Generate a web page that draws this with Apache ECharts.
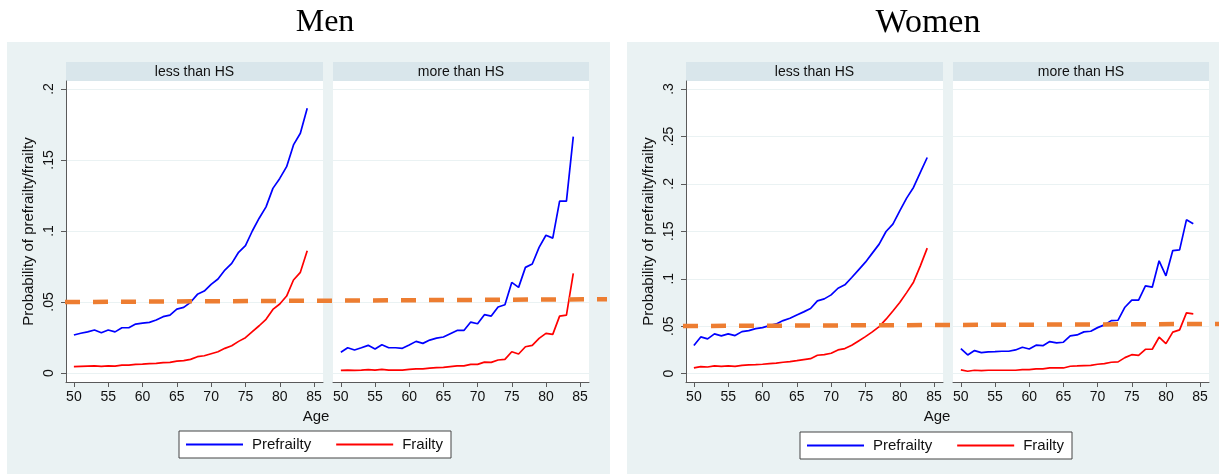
<!DOCTYPE html>
<html><head><meta charset="utf-8">
<script src="https://cdn.jsdelivr.net/npm/echarts@6/dist/echarts.min.js"></script>
<style>html,body{margin:0;padding:0;background:#fff}#c{width:1221px;height:474px}</style>
</head><body><div id="c"></div>
<script>
const ages = [50,51,52,53,54,55,56,57,58,59,60,61,62,63,64,65,66,67,68,69,70,71,72,73,74,75,76,77,78,79,80,81,82,83,84];
const xTicks = [50,55,60,65,70,75,80,85];
const menYTicks = [0,0.05,0.1,0.15,0.2];
const womenYTicks = [0,0.05,0.1,0.15,0.2,0.25,0.3];
const panelTitles = ['Men','Women'];
const stripLabels = ['less than HS','more than HS'];
const seriesNames = ['Prefrailty','Frailty'];
const threshold = [0.05, 0.052];
const thresholdW = [0.0502, 0.0524];

const menLessPre = [0.0268,0.0280,0.0290,0.0303,0.0284,0.0303,0.0290,0.0319,0.0319,0.0345,0.0352,0.0357,0.0373,0.0397,0.0408,0.0450,0.0462,0.0498,0.0554,0.0577,0.0624,0.0662,0.0725,0.0772,0.0850,0.0897,0.1000,0.1090,0.1170,0.1300,0.1370,0.1453,0.1606,0.1688,0.1864];
const menLessFr = [0.0045,0.0047,0.0049,0.0051,0.0047,0.0050,0.0049,0.0056,0.0056,0.0061,0.0063,0.0066,0.0068,0.0073,0.0075,0.0084,0.0087,0.0096,0.0115,0.0122,0.0136,0.0150,0.0174,0.0192,0.0223,0.0249,0.0291,0.0333,0.0378,0.0448,0.0486,0.0542,0.0655,0.0709,0.0861];
const menMorePre = [0.0146,0.0178,0.0162,0.0178,0.0195,0.0169,0.0199,0.0178,0.0178,0.0174,0.0197,0.0223,0.0209,0.0232,0.0246,0.0254,0.0277,0.0300,0.0300,0.0359,0.0347,0.0411,0.0401,0.0465,0.0481,0.0638,0.0603,0.0744,0.0768,0.0885,0.0970,0.0950,0.1210,0.1210,0.1664];
const menMoreFr = [0.0019,0.0021,0.0019,0.0021,0.0024,0.0021,0.0026,0.0021,0.0021,0.0021,0.0026,0.0030,0.0030,0.0035,0.0038,0.0040,0.0045,0.0050,0.0050,0.0061,0.0061,0.0077,0.0075,0.0092,0.0096,0.0150,0.0134,0.0185,0.0195,0.0244,0.0279,0.0272,0.0401,0.0408,0.0702];
const womenLessPre = [0.0296,0.0387,0.0366,0.0419,0.0398,0.0419,0.0401,0.0443,0.0454,0.0475,0.0485,0.0506,0.0524,0.0559,0.0584,0.0619,0.0651,0.0686,0.0767,0.0788,0.0830,0.0900,0.0936,0.1013,0.1094,0.1175,0.1270,0.1365,0.1498,0.1576,0.1716,0.1850,0.1962,0.2120,0.2278];
const womenLessFr = [0.0060,0.0074,0.0070,0.0081,0.0077,0.0081,0.0077,0.0088,0.0092,0.0095,0.0099,0.0106,0.0110,0.0120,0.0127,0.0137,0.0148,0.0158,0.0194,0.0201,0.0215,0.0250,0.0264,0.0299,0.0345,0.0390,0.0440,0.0496,0.0574,0.0661,0.0749,0.0854,0.0964,0.1136,0.1323];
const womenMorePre = [0.0264,0.0197,0.0243,0.0222,0.0229,0.0232,0.0236,0.0236,0.0250,0.0278,0.0260,0.0300,0.0295,0.0338,0.0324,0.0331,0.0398,0.0408,0.0440,0.0447,0.0485,0.0514,0.0559,0.0563,0.0700,0.0774,0.0774,0.0925,0.0911,0.1189,0.1031,0.1297,0.1305,0.1621,0.1579];
const womenMoreFr = [0.0039,0.0025,0.0036,0.0032,0.0036,0.0036,0.0036,0.0036,0.0036,0.0042,0.0042,0.0050,0.0050,0.0060,0.0060,0.0060,0.0078,0.0081,0.0085,0.0088,0.0099,0.0106,0.0120,0.0124,0.0169,0.0200,0.0193,0.0257,0.0257,0.0384,0.0316,0.0437,0.0461,0.0640,0.0630];

const FONT = 'Liberation Sans, Arial, sans-serif';
const PANEL = '#eaf2f3', STRIP = '#d9e6eb', GRIDC = '#eaf2f3', AXC = '#5a5a5a', TXT = '#111';
const fmt = v => String(+v.toFixed(3)).replace(/^0\./, '.');

const plots = [
  {left: 66, width: 257, ymin: -0.0063, ymax: 0.2056, yt: menYTicks, first: true, pre: menLessPre, fr: menLessFr, strip: 0},
  {left: 333, width: 256, ymin: -0.0063, ymax: 0.2056, yt: menYTicks, first: false, pre: menMorePre, fr: menMoreFr, strip: 1},
  {left: 686, width: 257, ymin: -0.0088, ymax: 0.3084, yt: womenYTicks, first: true, pre: womenLessPre, fr: womenLessFr, strip: 0},
  {left: 953, width: 256, ymin: -0.0088, ymax: 0.3084, yt: womenYTicks, first: false, pre: womenMorePre, fr: womenMoreFr, strip: 1}
];
const TOP = 81, BOTTOM = 474 - 382;

const grid = [], xAxis = [], yAxis = [], series = [], graphic = [];
graphic.push({type:'rect', z:-100, shape:{x:7,y:42,width:603,height:432}, style:{fill:PANEL}});
graphic.push({type:'rect', z:-100, shape:{x:627,y:42,width:592,height:432}, style:{fill:PANEL}});
graphic.push({type:'text', x:325, y:23, style:{text:panelTitles[0], font:'32px "Liberation Serif", "Times New Roman", serif', fill:'#000', align:'center', verticalAlign:'middle'}});
graphic.push({type:'text', x:928, y:23, style:{text:panelTitles[1], font:'34px "Liberation Serif", "Times New Roman", serif', fill:'#000', align:'center', verticalAlign:'middle'}});
graphic.push({type:'text', x:316, y:417, style:{text:'Age', font:'15px ' + FONT, fill:TXT, align:'center', verticalAlign:'middle'}});
graphic.push({type:'text', x:937, y:417, style:{text:'Age', font:'15px ' + FONT, fill:TXT, align:'center', verticalAlign:'middle'}});

plots.forEach((p, i) => {
  grid.push({left: p.left, width: p.width, top: TOP, bottom: BOTTOM, show: true, backgroundColor: '#fff', borderWidth: 0});
  graphic.push({type:'rect', z:-50, shape:{x:p.left, y:62, width:p.width, height:19}, style:{fill:STRIP}});
  graphic.push({type:'text', x:p.left + p.width/2, y:72, style:{text:stripLabels[p.strip], font:'14px ' + FONT, fill:TXT, align:'center', verticalAlign:'middle'}});
  xAxis.push({
    type: 'value', gridIndex: i, min: 48.85, max: 86.3,
    axisLine: {show: true, onZero: false, lineStyle: {color: AXC, width: 1}},
    axisTick: {show: true, length: 5, customValues: xTicks, lineStyle: {color: AXC}},
    axisLabel: {show: true, customValues: xTicks, margin: 8, fontSize: 14, fontFamily: FONT, color: TXT},
    splitLine: {show: false}
  });
  yAxis.push({
    type: 'value', gridIndex: i, min: p.ymin, max: p.ymax,
    name: p.first ? 'Probability of prefrailty/frailty' : '',
    nameLocation: 'middle', nameGap: 30,
    nameTextStyle: {fontSize: 15, fontFamily: FONT, color: TXT},
    axisLine: {show: p.first, lineStyle: {color: AXC, width: 1}},
    axisTick: {show: p.first, length: 5, customValues: p.yt, lineStyle: {color: AXC}},
    axisLabel: {show: p.first, customValues: p.yt, rotate: 90, margin: 10, fontSize: 14, fontFamily: FONT, color: TXT, formatter: fmt},
    splitLine: {show: true, lineStyle: {color: GRIDC, width: 1.2}}
  });
  series.push({name: seriesNames[0], type: 'line', xAxisIndex: i, yAxisIndex: i, showSymbol: false, symbol: 'none',
    lineStyle: {color: '#0000ff', width: 1.7}, itemStyle: {color: '#0000ff'},
    data: ages.map((a, k) => [a, p.pre[k]])});
  series.push({name: seriesNames[1], type: 'line', xAxisIndex: i, yAxisIndex: i, showSymbol: false, symbol: 'none',
    lineStyle: {color: '#ff0000', width: 1.7}, itemStyle: {color: '#ff0000'},
    data: ages.map((a, k) => [a, p.fr[k]])});
});

const overlays = [
  {left: 65, width: 542, ymin: -0.0063, ymax: 0.2056, vals: threshold},
  {left: 683, width: 536, ymin: -0.0088, ymax: 0.3084, vals: thresholdW}
];
overlays.forEach(o => {
  const gi = grid.length;
  grid.push({left: o.left, width: o.width, top: TOP, bottom: BOTTOM, show: false});
  xAxis.push({type: 'value', gridIndex: gi, min: 0, max: 1, show: false});
  yAxis.push({type: 'value', gridIndex: gi, min: o.ymin, max: o.ymax, show: false});
  series.push({name: 'threshold', type: 'line', xAxisIndex: gi, yAxisIndex: gi, showSymbol: false, symbol: 'none', z: 5,
    lineStyle: {color: '#ED7D31', width: 4.5, type: [15, 13], cap: 'butt'},
    data: [[0, o.vals[0]], [1, o.vals[1]]]});
});

const legendBase = {
  data: seriesNames, orient: 'horizontal', icon: 'rect', itemWidth: 57, itemHeight: 2, itemGap: 25,
  backgroundColor: '#fff', borderColor: '#444', borderWidth: 1, borderRadius: 0,
  padding: [6, 8, 6, 7],
  textStyle: {fontSize: 15, fontFamily: FONT, color: TXT, padding: [0, 0, 0, 4]},
  selectedMode: false
};
const legend = [
  Object.assign({}, legendBase, {left: 179, top: 431}),
  Object.assign({}, legendBase, {left: 800, top: 432})
];

const chart = echarts.init(document.getElementById('c'), null, {renderer: 'canvas'});
chart.setOption({
  backgroundColor: '#fff',
  animation: false,
  textStyle: {fontFamily: FONT},
  grid, xAxis, yAxis, series, legend, graphic
});
</script></body></html>
